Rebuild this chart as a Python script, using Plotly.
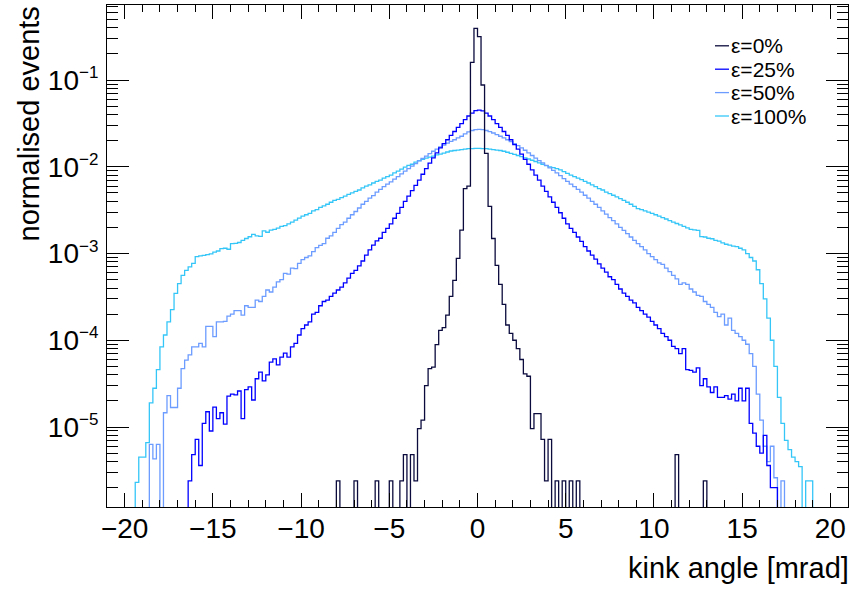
import numpy as np
import plotly.graph_objects as go

# ---------------- data ----------------
x_min, x_max, bin_width = -21.0, 21.0, 0.2

labels = ["ε=0%", "ε=25%", "ε=50%", "ε=100%"]
colors = ["#0b0b3e", "#0000ff", "#6c9cff", "#35c6f8"]

eps0_start = -8.0
eps0_values = [
    2.4e-6, 0, 0, 0, 0, 2.4e-6, 0, 0, 0, 0,
    0, 2.4e-6, 0, 0, 0, 2.4e-6, 0, 0, 2.4e-6, 4.8e-6,
    0, 4.8e-6, 2.4e-6, 9.6e-6, 1.2e-5, 3.0e-5, 4.7e-5, 4.9e-5, 8.9e-5, 1.3e-4,
    1.4e-4, 1.95e-4, 3.2e-4, 4.9e-4, 8.8e-4, 1.86e-3, 5.6e-3, 6.0e-3, 0.16, 0.394,
    0.316, 0.0876, 0.0143, 3.5e-3, 1.49e-3, 7.3e-4, 4.4e-4, 2.6e-4, 1.5e-4, 1.2e-4,
    1.0e-4, 8.0e-5, 6.0e-5, 4.1e-5, 3.85e-5, 9.6e-6, 1.43e-5, 1.43e-5, 7.2e-6, 2.4e-6,
    7.2e-6, 0, 2.4e-6, 0, 2.4e-6, 0, 2.4e-6, 0, 2.4e-6, 0,
    0, 0, 0, 0, 0, 0, 0, 0, 0, 0,
    0, 0, 0, 0, 0, 0, 0, 0, 0, 0,
    0, 0, 0, 0, 0, 0, 4.8e-6, 0, 0, 0,
    0, 0, 0, 0, 2.4e-6,
]

eps25_start = -16.4
eps25_values = [
    2.4e-6, 4.8e-6, 7.2e-6, 3.6e-6, 1.1e-5, 1.5e-5, 9.0e-6, 1.7e-5, 1.25e-5, 1.46e-5,
    1.08e-5, 2.27e-5, 2.4e-5, 2.35e-5, 2.6e-5, 1.25e-5, 2.7e-5, 2.9e-5, 2.05e-5, 3.6e-5,
    4.3e-5, 3.4e-5, 4.0e-5, 5.6e-5, 6.1e-5, 5.2e-5, 6.4e-5, 7.1e-5, 6.4e-5, 8.4e-5,
    9.2e-5, 1.15e-4, 1.36e-4, 1.5e-4, 1.63e-4, 2.0e-4, 2.1e-4, 2.5e-4, 2.8e-4, 2.9e-4,
    3.2e-4, 3.5e-4, 3.8e-4, 4.1e-4, 4.6e-4, 5.2e-4, 5.9e-4, 6.4e-4, 7.2e-4, 8.2e-4,
    9.6e-4, 1.1e-3, 1.25e-3, 1.4e-3, 1.5e-3, 1.75e-3, 1.95e-3, 2.2e-3, 2.55e-3, 2.9e-3,
    3.4e-3, 4.0e-3, 4.6e-3, 5.3e-3, 6.1e-3, 7.0e-3, 8.2e-3, 9.5e-3, 1.1e-2, 1.27e-2,
    1.45e-2, 1.65e-2, 1.85e-2, 2.05e-2, 2.3e-2, 2.55e-2, 2.85e-2, 3.15e-2, 3.5e-2, 3.85e-2,
    4.15e-2, 4.45e-2, 4.5e-2, 4.4e-2, 4.15e-2, 3.85e-2, 3.5e-2, 3.15e-2, 2.85e-2, 2.55e-2,
    2.3e-2, 2.05e-2, 1.8e-2, 1.6e-2, 1.4e-2, 1.22e-2, 1.07e-2, 9.2e-3, 8.0e-3, 7.0e-3,
    6.0e-3, 5.2e-3, 4.5e-3, 3.9e-3, 3.4e-3, 2.95e-3, 2.55e-3, 2.2e-3, 1.95e-3, 1.75e-3,
    1.55e-3, 1.38e-3, 1.2e-3, 1.07e-3, 9.6e-4, 8.6e-4, 7.6e-4, 6.8e-4, 6.1e-4, 5.4e-4,
    5.0e-4, 4.4e-4, 3.9e-4, 3.5e-4, 3.2e-4, 2.9e-4, 2.7e-4, 2.4e-4, 2.2e-4, 2.0e-4,
    1.85e-4, 1.65e-4, 1.5e-4, 1.36e-4, 1.2e-4, 1.1e-4, 1.0e-4, 8.5e-5, 8.0e-5, 7.0e-5,
    8.0e-5, 4.6e-5, 4.5e-5, 4.3e-5, 4.8e-5, 3.0e-5, 3.6e-5, 2.9e-5, 2.5e-5, 2.9e-5,
    2.2e-5, 2.2e-5, 2.3e-5, 2.1e-5, 2.4e-5, 2.0e-5, 2.8e-5, 2.0e-5, 2.8e-5, 1.1e-5,
    8.5e-6, 6.0e-6, 5.0e-6, 8.0e-6, 3.6e-6, 2.0e-6, 2.0e-6,
]

eps50_start = -18.6
eps50_values = [
    6.3e-6, 4.3e-6, 6.3e-6, 0, 1.46e-5, 2.3e-5, 1.68e-5, 1.68e-5, 2.8e-5, 4.7e-5,
    5.9e-5, 6.8e-5, 8.4e-5, 8.4e-5, 9.2e-5, 8.4e-5, 1.45e-4, 1.45e-4, 1.1e-4, 1.63e-4,
    1.63e-4, 1.65e-4, 1.9e-4, 2.0e-4, 2.2e-4, 2.2e-4, 1.95e-4, 2.5e-4, 2.4e-4, 2.4e-4,
    2.9e-4, 2.8e-4, 3.2e-4, 3.8e-4, 3.6e-4, 4.1e-4, 4.7e-4, 5.0e-4, 5.9e-4, 5.8e-4,
    6.8e-4, 6.7e-4, 7.7e-4, 8.5e-4, 9.0e-4, 9.4e-4, 1.05e-3, 1.17e-3, 1.24e-3, 1.3e-3,
    1.5e-3, 1.6e-3, 1.75e-3, 1.95e-3, 2.15e-3, 2.3e-3, 2.55e-3, 2.8e-3, 3.05e-3, 3.35e-3,
    3.7e-3, 4.0e-3, 4.35e-3, 4.65e-3, 5.1e-3, 5.5e-3, 5.9e-3, 6.3e-3, 6.7e-3, 7.2e-3,
    7.7e-3, 8.3e-3, 8.9e-3, 9.5e-3, 1.02e-2, 1.09e-2, 1.17e-2, 1.25e-2, 1.33e-2, 1.42e-2,
    1.51e-2, 1.6e-2, 1.69e-2, 1.78e-2, 1.87e-2, 1.96e-2, 2.05e-2, 2.15e-2, 2.25e-2, 2.4e-2,
    2.52e-2, 2.62e-2, 2.68e-2, 2.7e-2, 2.68e-2, 2.62e-2, 2.54e-2, 2.45e-2, 2.35e-2, 2.25e-2,
    2.15e-2, 2.05e-2, 1.95e-2, 1.85e-2, 1.75e-2, 1.65e-2, 1.55e-2, 1.45e-2, 1.35e-2, 1.26e-2,
    1.18e-2, 1.11e-2, 1.04e-2, 9.7e-3, 9.1e-3, 8.5e-3, 7.9e-3, 7.3e-3, 6.8e-3, 6.3e-3,
    5.9e-3, 5.5e-3, 5.1e-3, 4.7e-3, 4.35e-3, 4.0e-3, 3.7e-3, 3.4e-3, 3.1e-3, 2.85e-3,
    2.6e-3, 2.4e-3, 2.2e-3, 2.0e-3, 1.85e-3, 1.7e-3, 1.55e-3, 1.42e-3, 1.3e-3, 1.2e-3,
    1.1e-3, 1.0e-3, 9.2e-4, 8.5e-4, 7.8e-4, 7.5e-4, 6.8e-4, 6.2e-4, 5.6e-4, 5.1e-4,
    4.4e-4, 4.6e-4, 4.4e-4, 3.9e-4, 3.6e-4, 3.3e-4, 3.2e-4, 2.8e-4, 2.6e-4, 2.4e-4,
    2.1e-4, 1.87e-4, 2.0e-4, 1.5e-4, 1.8e-4, 1.3e-4, 1.2e-4, 1.1e-4, 1.0e-4, 9.0e-5,
    7.0e-5, 5.0e-5, 2.4e-5, 1.2e-5, 6.0e-6, 4.0e-6, 6.0e-6, 2.6e-6, 0, 2.4e-6,
]

eps100_start = -19.4
eps100_values = [
    2.3e-6, 4.5e-6, 4.5e-6, 6.6e-6, 1.9e-5, 2.8e-5, 4.6e-5, 8.4e-5, 1.15e-4, 1.63e-4,
    2.26e-4, 3.47e-4, 4.5e-4, 5.6e-4, 6.4e-4, 7.0e-4, 7.7e-4, 9.2e-4, 9.4e-4, 9.5e-4,
    9.7e-4, 9.9e-4, 1.04e-3, 1.07e-3, 1.14e-3, 1.15e-3, 1.12e-3, 1.3e-3, 1.31e-3, 1.34e-3,
    1.42e-3, 1.49e-3, 1.56e-3, 1.66e-3, 1.6e-3, 1.58e-3, 1.82e-3, 1.76e-3, 1.86e-3, 1.9e-3,
    1.96e-3, 2.06e-3, 2.1e-3, 2.2e-3, 2.3e-3, 2.43e-3, 2.56e-3, 2.7e-3, 2.8e-3, 2.9e-3,
    3.1e-3, 3.2e-3, 3.4e-3, 3.55e-3, 3.7e-3, 3.9e-3, 4.1e-3, 4.2e-3, 4.4e-3, 4.6e-3,
    4.8e-3, 5.0e-3, 5.2e-3, 5.4e-3, 5.7e-3, 6.0e-3, 6.2e-3, 6.5e-3, 6.8e-3, 7.0e-3,
    7.4e-3, 7.7e-3, 8.0e-3, 8.5e-3, 8.9e-3, 9.4e-3, 9.9e-3, 1.04e-2, 1.07e-2, 1.13e-2,
    1.18e-2, 1.22e-2, 1.26e-2, 1.29e-2, 1.33e-2, 1.37e-2, 1.4e-2, 1.44e-2, 1.48e-2, 1.52e-2,
    1.54e-2, 1.56e-2, 1.58e-2, 1.6e-2, 1.62e-2, 1.62e-2, 1.63e-2, 1.63e-2, 1.62e-2, 1.62e-2,
    1.6e-2, 1.58e-2, 1.56e-2, 1.54e-2, 1.51e-2, 1.47e-2, 1.43e-2, 1.39e-2, 1.35e-2, 1.31e-2,
    1.27e-2, 1.23e-2, 1.19e-2, 1.15e-2, 1.11e-2, 1.07e-2, 1.03e-2, 1.0e-2, 9.8e-3, 9.5e-3,
    9.2e-3, 8.8e-3, 8.4e-3, 8.0e-3, 7.7e-3, 7.4e-3, 7.1e-3, 6.8e-3, 6.5e-3, 6.2e-3,
    5.9e-3, 5.6e-3, 5.4e-3, 5.1e-3, 4.9e-3, 4.7e-3, 4.5e-3, 4.3e-3, 4.1e-3, 3.9e-3,
    3.7e-3, 3.5e-3, 3.3e-3, 3.2e-3, 3.1e-3, 3.0e-3, 2.9e-3, 2.8e-3, 2.7e-3, 2.6e-3,
    2.5e-3, 2.4e-3, 2.3e-3, 2.22e-3, 2.14e-3, 2.06e-3, 1.98e-3, 1.9e-3, 1.87e-3, 1.85e-3,
    1.57e-3, 1.55e-3, 1.5e-3, 1.48e-3, 1.42e-3, 1.39e-3, 1.33e-3, 1.28e-3, 1.25e-3, 1.22e-3,
    1.2e-3, 1.15e-3, 1.1e-3, 1.0e-3, 9.0e-4, 8.2e-4, 6.5e-4, 4.5e-4, 3.0e-4, 1.8e-4,
    1.0e-4, 5.0e-5, 2.2e-5, 1.1e-5, 7.0e-6, 5.5e-6, 4.5e-6, 4.0e-6, 3.5e-6, 0,
    2.4e-6, 2.4e-6,
]

x_ticks = [-20, -15, -10, -5, 0, 5, 10, 15, 20]
y_tick_exponents = [-5, -4, -3, -2, -1]
x_title = "kink angle [mrad]"
y_title = "normalised events"
y_range_decades = (-5.922, -0.135)

# ---------------- build figure ----------------
nbins = int(round((x_max - x_min) / bin_width))
edges = x_min + bin_width * np.arange(nbins + 1)
floor = 1e-9


def full_hist(start, vals):
    arr = np.zeros(nbins)
    i0 = int(round((start - x_min) / bin_width))
    arr[i0:i0 + len(vals)] = vals
    return arr


series = [
    full_hist(eps0_start, eps0_values),
    full_hist(eps25_start, eps25_values),
    full_hist(eps50_start, eps50_values),
    full_hist(eps100_start, eps100_values),
]

fig = go.Figure()
draw_order = [3, 2, 1, 0]
for k in draw_order:
    h = series[k]
    y = np.where(h > 0, h, floor)
    y = np.append(y, y[-1])
    fig.add_trace(go.Scatter(
        x=edges, y=y, mode="lines", line_shape="hv",
        line=dict(color=colors[k], width=1.3),
        name=labels[k], showlegend=False, hoverinfo="skip",
    ))

W, H = 851, 590
ml, mr, mt, mb = 107, 3, 5, 83
pw, ph = W - ml - mr, H - mt - mb


def px_x(px):
    return (px - ml) / pw


def px_y(py):
    return (H - mb - py) / ph


font_family = "Liberation Sans, Arial, Helvetica, sans-serif"

fig.update_xaxes(
    range=[x_min, x_max], tickvals=x_ticks,
    ticktext=[("\u2212" + str(-t)) if t < 0 else str(t) for t in x_ticks],
    ticks="inside", ticklen=14, tickwidth=1, tickcolor="black",
    minor=dict(ticks="inside", ticklen=7, tickwidth=1, tickcolor="black", dtick=1, showgrid=False),
    showline=True, linecolor="black", linewidth=1, mirror="allticks",
    showgrid=False, zeroline=False, ticklabelstandoff=-4,
    tickfont=dict(family=font_family, size=28, color="black"),
)
fig.update_yaxes(
    type="log", range=list(y_range_decades),
    tickvals=[10.0 ** e for e in y_tick_exponents],
    ticktext=["10<sup><span style='font-size:17px'>\u2212%d</span></sup>" % (-e) for e in y_tick_exponents],
    ticks="inside", ticklen=22, tickwidth=1, tickcolor="black",
    minor=dict(ticks="inside", ticklen=11, tickwidth=1, tickcolor="black", dtick="D1", showgrid=False),
    showline=True, linecolor="black", linewidth=1, mirror="allticks",
    showgrid=False, zeroline=False, ticklabelstandoff=2,
    tickfont=dict(family=font_family, size=28, color="black"),
)

annotations = [
    dict(text=x_title, xref="paper", yref="paper", x=1.0, y=px_y(586),
         xanchor="right", yanchor="bottom", xshift=3, showarrow=False,
         font=dict(family=font_family, size=29, color="black")),
    dict(text=y_title, xref="paper", yref="paper", x=px_x(28), y=1.0,
         xanchor="center", yanchor="top", textangle=-90, showarrow=False,
         font=dict(family=font_family, size=29, color="black")),
]
shapes = []
legend_rows = [45.8, 69.2, 92.6, 116.0]
for k, (lab, col, ry) in enumerate(zip(labels, colors, legend_rows)):
    shapes.append(dict(type="line", xref="paper", yref="paper",
                       x0=px_x(715), x1=px_x(729), y0=px_y(ry), y1=px_y(ry),
                       line=dict(color=col, width=1.3)))
    annotations.append(dict(text=lab, xref="paper", yref="paper",
                            x=px_x(730), y=px_y(ry), xanchor="left", yanchor="middle",
                            borderpad=0, showarrow=False,
                            font=dict(family=font_family, size=21, color="black")))

fig.update_layout(
    width=W, height=H,
    margin=dict(l=ml, r=mr, t=mt, b=mb, pad=0),
    paper_bgcolor="white", plot_bgcolor="white",
    annotations=annotations, shapes=shapes,
    font=dict(family=font_family, color="black"),
)

fig.write_html("out.html")
